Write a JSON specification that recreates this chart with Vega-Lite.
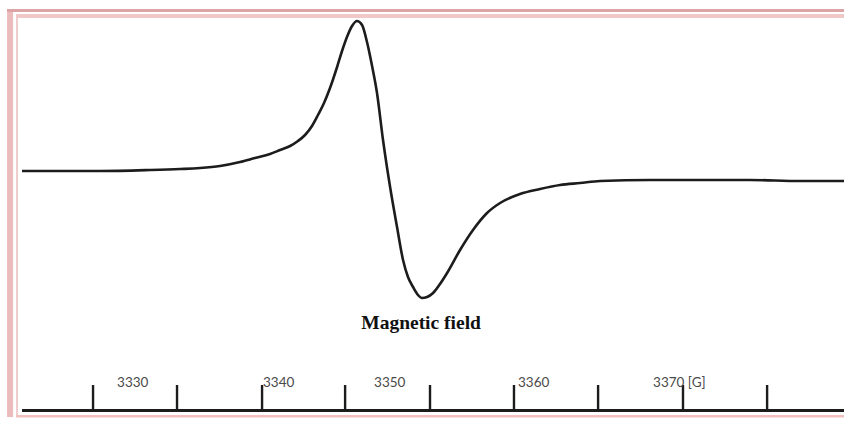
{
  "$schema": "https://vega.github.io/schema/vega-lite/v6.json",
  "width": 844,
  "height": 421,
  "autosize": {"type": "none"},
  "padding": 0,
  "background": "white",
  "view": {"stroke": null},
  "data": {"values": [{}]},
  "datasets": {
    "curve": [
      {"field": 3321.76, "signal": 0}, {"field": 3327.60, "signal": 0}, {"field": 3331.35, "signal": 1},
      {"field": 3333.60, "signal": 2}, {"field": 3335.09, "signal": 3}, {"field": 3336.59, "signal": 5},
      {"field": 3338.09, "signal": 9}, {"field": 3339.21, "signal": 13}, {"field": 3340.34, "signal": 17},
      {"field": 3341.09, "signal": 21}, {"field": 3341.84, "signal": 25}, {"field": 3342.43, "signal": 30},
      {"field": 3342.96, "signal": 36}, {"field": 3343.48, "signal": 45}, {"field": 3343.93, "signal": 56},
      {"field": 3344.38, "signal": 68}, {"field": 3344.83, "signal": 83},
      {"field": 3345.36, "signal": 104}, {"field": 3345.73, "signal": 120}, {"field": 3346.10, "signal": 134},
      {"field": 3346.48, "signal": 145}, {"field": 3346.85, "signal": 150}, {"field": 3347.23, "signal": 146},
      {"field": 3347.60, "signal": 129}, {"field": 3347.98, "signal": 105}, {"field": 3348.35, "signal": 78},
      {"field": 3348.80, "signal": 31}, {"field": 3349.33, "signal": -16}, {"field": 3349.85, "signal": -56},
      {"field": 3350.30, "signal": -89}, {"field": 3350.67, "signal": -106}, {"field": 3351.05, "signal": -116},
      {"field": 3351.42, "signal": -124}, {"field": 3351.72, "signal": -127}, {"field": 3352.10, "signal": -126},
      {"field": 3352.55, "signal": -122}, {"field": 3353.07, "signal": -113}, {"field": 3353.60, "signal": -102},
      {"field": 3354.57, "signal": -79}, {"field": 3355.54, "signal": -59}, {"field": 3356.59, "signal": -42},
      {"field": 3357.57, "signal": -32}, {"field": 3359.06, "signal": -23}, {"field": 3360.56, "signal": -18},
      {"field": 3362.06, "signal": -14}, {"field": 3363.56, "signal": -12}, {"field": 3365.06, "signal": -10},
      {"field": 3368.80, "signal": -9}, {"field": 3372.55, "signal": -9}, {"field": 3376.29, "signal": -9},
      {"field": 3380.04, "signal": -10}, {"field": 3383.33, "signal": -10}
    ],
    "ticks": [
      {"field": 3327.08}, {"field": 3333.37}, {"field": 3339.74}, {"field": 3345.96}, {"field": 3352.32},
      {"field": 3358.61}, {"field": 3364.91}, {"field": 3371.27}, {"field": 3377.57}
    ],
    "labels": [
      {"field": 3328.88, "label": "3330"},
      {"field": 3339.81, "label": "3340"},
      {"field": 3348.13, "label": "3350"},
      {"field": 3358.91, "label": "3360"},
      {"field": 3369.03, "label": "3370 [G]"}
    ]
  },
  "layer": [
    {
      "mark": {"type": "rect", "color": "#ecbcbc"},
      "encoding": {
        "x": {"datum": 3320.64, "type": "quantitative", "scale": {"domain": [3320.11, 3383.33], "nice": false, "zero": false}, "axis": null},
        "x2": {"datum": 3321.09},
        "y": {"datum": 162, "type": "quantitative", "scale": {"domain": [-250, 171], "nice": false, "zero": false}, "axis": null},
        "y2": {"datum": -246}
      }
    },
    {
      "mark": {"type": "rect", "color": "#f2cccc"},
      "encoding": {
        "x": {"datum": 3321.31, "type": "quantitative"},
        "x2": {"datum": 3321.46},
        "y": {"datum": 156, "type": "quantitative"},
        "y2": {"datum": -244}
      }
    },
    {
      "mark": {"type": "rect", "color": "#dca4a4"},
      "encoding": {
        "x": {"datum": 3320.64, "type": "quantitative"},
        "x2": {"datum": 3383.33},
        "y": {"datum": 162, "type": "quantitative"},
        "y2": {"datum": 159}
      }
    },
    {
      "mark": {"type": "rect", "color": "#f0c8c8"},
      "encoding": {
        "x": {"datum": 3321.31, "type": "quantitative"},
        "x2": {"datum": 3383.33},
        "y": {"datum": 157, "type": "quantitative"},
        "y2": {"datum": 153}
      }
    },
    {
      "mark": {"type": "rect", "color": "#f0c0c0"},
      "encoding": {
        "x": {"datum": 3321.31, "type": "quantitative"},
        "x2": {"datum": 3383.33},
        "y": {"datum": -244, "type": "quantitative"},
        "y2": {"datum": -246.5}
      }
    },
    {
      "data": {"name": "curve"},
      "mark": {"type": "line", "color": "#1c1c1c", "strokeWidth": 2.6, "interpolate": "monotone"},
      "encoding": {
        "x": {"field": "field", "type": "quantitative"},
        "y": {"field": "signal", "type": "quantitative"}
      }
    },
    {
      "mark": {"type": "rule", "color": "#1c1c1c", "strokeWidth": 3},
      "encoding": {
        "x": {"datum": 3321.76, "type": "quantitative"},
        "x2": {"datum": 3383.33},
        "y": {"datum": -239.5, "type": "quantitative"}
      }
    },
    {
      "data": {"name": "ticks"},
      "mark": {"type": "rule", "color": "#1c1c1c", "strokeWidth": 2.4},
      "encoding": {
        "x": {"field": "field", "type": "quantitative"},
        "y": {"datum": -239.5, "type": "quantitative"},
        "y2": {"datum": -214}
      }
    },
    {
      "data": {"name": "labels"},
      "mark": {"type": "text", "align": "left", "baseline": "alphabetic", "font": "Lato", "fontSize": 13.5, "color": "#4a4a4a"},
      "encoding": {
        "x": {"field": "field", "type": "quantitative"},
        "y": {"datum": -215.5, "type": "quantitative"},
        "text": {"field": "label"}
      }
    },
    {
      "mark": {"type": "text", "align": "center", "baseline": "middle", "font": "Liberation Serif", "fontWeight": "bold", "fontSize": 19.5, "color": "#111111"},
      "encoding": {
        "x": {"datum": 3351.65, "type": "quantitative"},
        "y": {"datum": -152, "type": "quantitative"},
        "text": {"value": "Magnetic field"}
      }
    }
  ]
}
